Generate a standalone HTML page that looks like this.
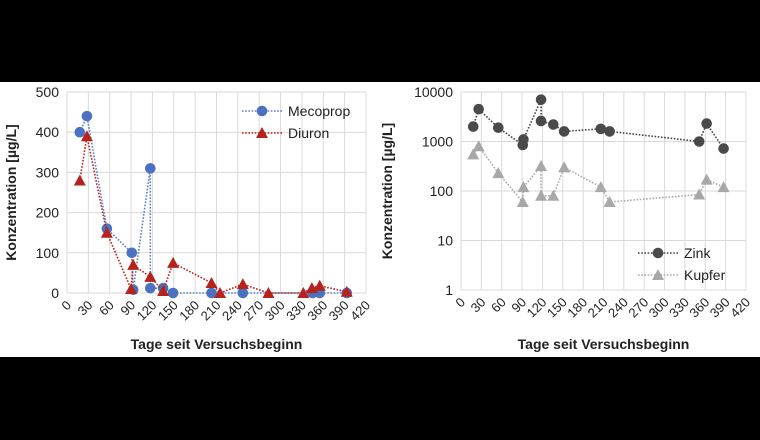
<!DOCTYPE html>
<html><head><meta charset="utf-8"><style>
html,body{margin:0;padding:0;background:#000;}
svg{display:block;font-family:"Liberation Sans",sans-serif;}
</style></head><body>
<svg id="c" width="760" height="440" xmlns="http://www.w3.org/2000/svg">
<rect x="0" y="82" width="760" height="275" fill="#fff"/>
</svg>
<script>
const xTicks=[0,30,60,90,120,150,180,210,240,270,300,330,360,390,420];
const leftYTicks=[0,100,200,300,400,500];
const rightYTicks=[1,10,100,1000,10000];
const mecoDays=[18,28,56,91,93,117,117,135,149,203,247,345,355,393];
const mecoVals=[400,440,160,100,8,310,12,12,0,0,0,0,0,0];
const diuronDays=[18,28,56,90,93,117,135,149,203,215,247,283,332,344,355,393];
const diuronVals=[280,390,150,10,70,40,5,75,25,0,22,0,0,12,18,3];
const zinkDays=[18,26,55,91,92,118,118,136,152,206,219,351,362,387];
const zinkVals=[2000,4500,1900,850,1100,7000,2600,2200,1600,1800,1600,1000,2300,720];
const kupferDays=[18,26,55,91,92,118,118,136,152,206,219,351,362,387];
const kupferVals=[550,800,230,60,120,320,80,80,300,120,60,85,170,120];

const svg=document.getElementById('c');
const NS='http://www.w3.org/2000/svg';
function mk(tag,attrs,parent){const e=document.createElementNS(NS,tag);for(const k in attrs)e.setAttribute(k,attrs[k]);(parent||svg).appendChild(e);return e;}

function chart(cfg){
  const g=mk('g',{});
  
  
  const X=d=>cfg.x0+(d/420)*(cfg.x1-cfg.x0);
  const Y=cfg.Y;
  xTicks.forEach(t=>{const l=mk('line',{x1:X(t),x2:X(t),y1:cfg.yTop,y2:cfg.yBot,stroke:'#d9d9d9','stroke-width':1},g);
    
    
    const tx=mk('text',{x:X(t)+5,y:cfg.yBot+13,'font-size':13,fill:'#222','text-anchor':'end',transform:`rotate(-45 ${X(t)+5} ${cfg.yBot+13})`},g);
    tx.textContent=t;
    
    });
  cfg.yTicks.forEach(t=>{const l=mk('line',{x1:cfg.x0,x2:cfg.x1,y1:Y(t),y2:Y(t),stroke:'#d9d9d9','stroke-width':1},g);
    
    
    const tx=mk('text',{x:cfg.x0-8,y:Y(t)+5,'font-size':14,fill:'#222','text-anchor':'end'},g);
    tx.textContent=t;
    
    });
  const yt=mk('text',{x:cfg.ytx,y:(cfg.yTop+cfg.yBot)/2,'font-size':14,'font-weight':'bold',fill:'#222','text-anchor':'middle',transform:`rotate(-90 ${cfg.ytx} ${(cfg.yTop+cfg.yBot)/2})`},g);
  yt.textContent='Konzentration [µg/L]';
  
  
  const xt=mk('text',{x:(cfg.x0+cfg.x1)/2,y:349,'font-size':14,'font-weight':'bold',fill:'#222','text-anchor':'middle'},g);
  xt.textContent='Tage seit Versuchsbeginn';
  
  
  cfg.series.forEach((s,i)=>{
    const sg=mk('g',{},g);
    
    
    const pts=s.days.map((d,j)=>[X(d),Y(s.vals[j])]);
    const pl=mk('polyline',{points:pts.map(p=>p.join(',')).join(' '),fill:'none',stroke:s.line,'stroke-width':1.6,'stroke-dasharray':'1.6 1.6'},sg);
    
    
    pts.forEach(p=>{const m=marker(s,p[0],p[1],sg);
      
      });
    const ly=cfg.legY+i*22;
    const ll=mk('line',{x1:cfg.legX,x2:cfg.legX+40,y1:ly,y2:ly,stroke:s.line,'stroke-width':1.6,'stroke-dasharray':'1.6 1.6'},g);
    
    
    const lm=marker(s,cfg.legX+20,ly,g);
    
    
    const lt=mk('text',{x:cfg.legX+46,y:ly+5,'font-size':14,fill:'#222'},g);
    lt.textContent=s.label;
    
    
  });
}
function marker(s,x,y,p){
  if(s.shape==='circle')return mk('circle',{cx:x,cy:y,r:5.3,fill:s.fill},p);
  return mk('polygon',{points:`${x},${y-6} ${x+6},${y+5} ${x-6},${y+5}`,fill:s.fill},p);
}
chart({name:'pesticide-chart',x0:67,x1:366,yTop:92,yBot:293,yTicks:leftYTicks,
  Y:v=>293-v/500*201,ytx:16,legX:242,legY:111,
  series:[{label:'Mecoprop',days:mecoDays,vals:mecoVals,shape:'circle',fill:'#4a72c0',line:'#5b7fc4'},
          {label:'Diuron',days:diuronDays,vals:diuronVals,shape:'tri',fill:'#b5231c',line:'#b5231c'}]});
chart({name:'metal-chart',x0:461,x1:746,yTop:92,yBot:290,yTicks:rightYTicks,
  Y:v=>290-Math.log10(v)*49.5,ytx:392,legX:638,legY:253,
  series:[{label:'Zink',days:zinkDays,vals:zinkVals,shape:'circle',fill:'#4a4a4a',line:'#444'},
          {label:'Kupfer',days:kupferDays,vals:kupferVals,shape:'tri',fill:'#a8a8a8',line:'#aaa'}]});
</script>
</body></html>
